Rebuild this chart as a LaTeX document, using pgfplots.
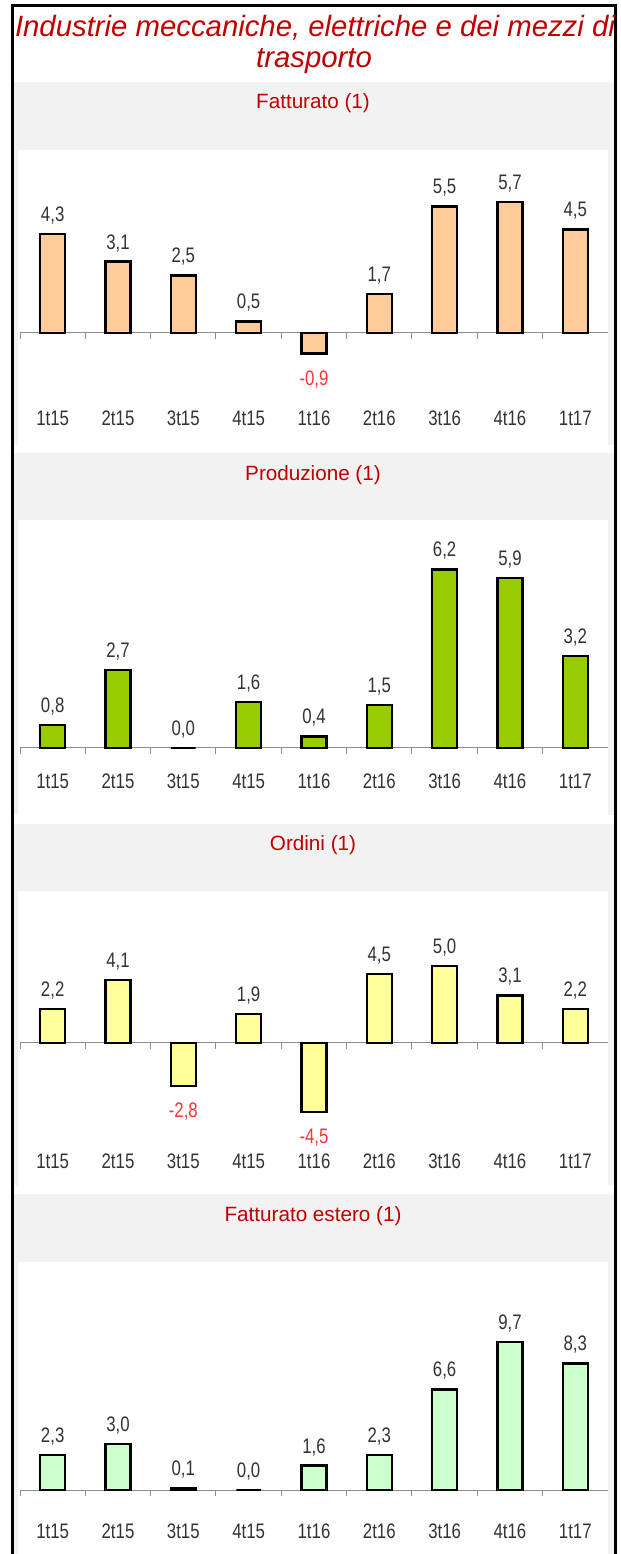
\documentclass[border=0pt]{standalone}
\usepackage{pgfplots}
\pgfplotsset{compat=1.18}
\usepackage{fontspec}
\setmainfont{Liberation Sans}
\newfontfamily\labfam[FakeStretch=0.8]{Liberation Sans}

\definecolor{titlered}{HTML}{C00000}
\definecolor{negred}{HTML}{FF3333}
\definecolor{panelgray}{HTML}{F2F2F2}
\definecolor{axisgray}{HTML}{8C8C8C}
\definecolor{labgray}{HTML}{333333}
\definecolor{cfatt}{HTML}{FFCC99}
\definecolor{cprod}{HTML}{99CC00}
\definecolor{cord}{HTML}{FFFF99}
\definecolor{cest}{HTML}{CCFFCC}

% one style for the four panels
\pgfplotsset{
  panel/.style={
    scale only axis, width=441pt,
    xmin=-0.5, xmax=8.5,
    axis x line=middle, axis y line=none, ytick=\empty,
    axis line style={-, draw=axisgray, line width=0.75pt},
    xtick={-0.5,0.5,...,7.5}, xticklabels={},
    xtick align=outside, major tick length=4.5pt,
    tick style={draw=axisgray, line width=0.75pt},
    extra x ticks={0,...,8},
    extra x tick labels={1t15,2t15,3t15,4t15,1t16,2t16,3t16,4t16,1t17},
    ticklabel style={font=\labfam\fontsize{15.75}{18}\selectfont, text=labgray},
    ybar, bar shift=0pt, bar width=0.38,
    clip=false,
    nodes near coords, nodes near coords align=vertical,
    every node near coord/.append style={font=\labfam\fontsize{15.75}{18}\selectfont, text=labgray, inner sep=6.5pt},
    /pgf/number format/fixed, /pgf/number format/fixed zerofill,
    /pgf/number format/precision=1, /pgf/number format/use comma,
    /pgf/number format/assume math mode=true,
  },
  labrow/.style={extra x tick style={major tick length=0pt,
    xticklabel style={anchor=center, yshift=-#1}}},
  barst/.style={fill=#1, draw=black, line width=1.8pt},
  negst/.style={every node near coord/.append style={text=negred, inner sep=12pt}},
}

\begin{document}
\begin{tikzpicture}
% page background, panels and titles, in pixels from the top left
\begin{scope}[x=0.75pt, y=-0.75pt, shift={(0pt,1165.5pt)}]
  \fill[white] (0,0) rectangle (621,1554);
  \fill[panelgray] (13,82) rectangle (614,445);
  \fill[white] (18,150) rectangle (608,445);
  \fill[panelgray] (13,453) rectangle (614,815);
  \fill[white] (18,520) rectangle (608,815);
  \fill[panelgray] (13,824) rectangle (614,1185);
  \fill[white] (18,891) rectangle (608,1185);
  \fill[panelgray] (13,1194) rectangle (614,1554);
  \fill[white] (18,1262) rectangle (608,1554);
  \draw[black, line width=2.25pt] (12,1554) -- (12,6) -- (615,6) -- (615,1554);
  \node[font=\itshape\fontsize{22}{26}\selectfont, text=titlered] at (315,28) {Industrie meccaniche, elettriche e dei mezzi di};
  \node[font=\itshape\fontsize{22}{26}\selectfont, text=titlered] at (314,61) {trasporto};
  \node[font=\fontsize{15.5}{18}\selectfont, text=titlered] at (313,103) {Fatturato (1)};
  \node[font=\fontsize{15.5}{18}\selectfont, text=titlered] at (313,475) {Produzione (1)};
  \node[font=\fontsize{15.5}{18}\selectfont, text=titlered] at (313,845) {Ordini (1)};
  \node[font=\fontsize{15.5}{18}\selectfont, text=titlered] at (313,1216) {Fatturato estero (1)};
\end{scope}

% Fatturato
\begin{axis}[panel, labrow=63.75pt, at={(15pt,831.75pt)}, anchor=south west,
  height=221.25pt, ymin=-4.8696, ymax=7.9565]
\addplot[barst=cfatt] coordinates {(0,4.3) (1,3.1) (2,2.5) (3,0.5) (5,1.7) (6,5.5) (7,5.7) (8,4.5)};
\addplot[barst=cfatt, negst] coordinates {(4,-0.9)};
\end{axis}

% Produzione
\begin{axis}[panel, labrow=24.75pt, at={(15pt,554.25pt)}, anchor=south west,
  height=221.25pt, ymin=-2.3264, ymax=7.9167]
\addplot[barst=cprod] coordinates {(0,0.8) (1,2.7) (2,0.0) (3,1.6) (4,0.4) (5,1.5) (6,6.2) (7,5.9) (8,3.2)};
\end{axis}

% Ordini
\begin{axis}[panel, labrow=88.5pt, at={(15pt,276.75pt)}, anchor=south west,
  height=220.5pt, ymin=-9.2508, ymax=9.9023]
\addplot[barst=cord] coordinates {(0,2.2) (1,4.1) (3,1.9) (5,4.5) (6,5.0) (7,3.1) (8,2.2)};
\addplot[barst=cord, negst] coordinates {(2,-2.8) (4,-4.5)};
\end{axis}

% Fatturato estero
\begin{axis}[panel, labrow=30.75pt, at={(15pt,0pt)}, anchor=south west,
  height=219pt, ymin=-4.1967, ymax=14.951]
\addplot[barst=cest] coordinates {(0,2.3) (1,3.0) (2,0.1) (3,0.0) (4,1.6) (5,2.3) (6,6.6) (7,9.7) (8,8.3)};
\end{axis}

\pgfresetboundingbox
\useasboundingbox (0,0) rectangle (465.75pt,1165.5pt);
\end{tikzpicture}
\end{document}
